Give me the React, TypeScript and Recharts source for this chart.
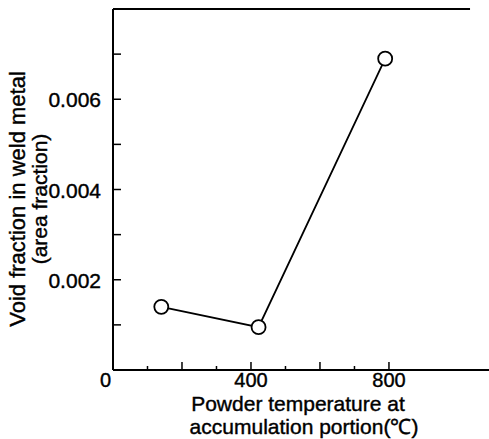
import { LineChart, Line, XAxis, YAxis, ReferenceLine } from 'recharts';

const temps = [140, 422, 789];
const voidFrac = [0.0014, 0.00095, 0.0069];
const xTicks = [0, 100, 200, 300, 400, 500, 600, 700, 800];
const xLabels = [0, 400, 800];
const yTicks = [0, 0.001, 0.002, 0.003, 0.004, 0.005, 0.006, 0.007];
const yLabels = ['0.002', '0.004', '0.006'];

const data = temps.map((t, i) => ({ t, v: voidFrac[i] }));
const font = '"Liberation Sans", Arial, sans-serif';
const textStyle = { fontFamily: font, fill: '#000', stroke: '#000', strokeWidth: 0.4 };

function XTick(props: any) {
  const { x, y, payload } = props;
  const val = payload.value;
  const len = val === 0 ? 0 : val % 200 === 0 ? 8 : 4;
  let label = null;
  if (val === 0) {
    label = <text x={x - 2} y={y + 17} textAnchor="end" fontSize={20} style={textStyle}>0</text>;
  } else if (xLabels.includes(val)) {
    label = <text x={x} y={y + 17} textAnchor="middle" fontSize={20} style={textStyle}>{val}</text>;
  }
  return (
    <g>
      {len > 0 && <line x1={x} y1={y} x2={x} y2={y - len} stroke="#000" strokeWidth={1.5} />}
      {label}
    </g>
  );
}

function YTick(props: any) {
  const { x, y, payload } = props;
  const val = payload.value;
  const txt = Number(val).toFixed(3);
  return (
    <g>
      {val !== 0 && <line x1={x} y1={y} x2={x + 8} y2={y} stroke="#000" strokeWidth={1.5} />}
      {yLabels.includes(txt) && (
        <text x={x - 12} y={y + 8} textAnchor="end" fontSize={21} style={textStyle}>{txt}</text>
      )}
    </g>
  );
}

export default function App() {
  return (
    <div style={{ position: 'absolute', left: 0, top: 0, background: '#fff' }}>
      <LineChart width={489} height={439} data={data} margin={{ top: 9, right: 0, bottom: 68, left: 112 }}>
        <XAxis
          type="number"
          dataKey="t"
          domain={[0, 1090]}
          ticks={xTicks}
          interval={0}
          height={1}
          tickSize={0}
          tickMargin={0}
          tickLine={false}
          axisLine={{ stroke: '#000', strokeWidth: 2 }}
          tick={(p: any) => <XTick {...p} />}
        />
        <YAxis
          type="number"
          domain={[0, 0.008]}
          ticks={yTicks}
          interval={0}
          width={1}
          tickSize={0}
          tickMargin={0}
          tickLine={false}
          axisLine={{ stroke: '#000', strokeWidth: 2 }}
          tick={(p: any) => <YTick {...p} />}
        />
        <ReferenceLine
          segment={[{ x: 0, y: 0.008 }, { x: 1035, y: 0.008 }]}
          stroke="#000"
          strokeWidth={2}
        />
        <Line
          type="linear"
          dataKey="v"
          stroke="#000"
          strokeWidth={1.8}
          dot={{ r: 7, fill: '#fff', stroke: '#000', strokeWidth: 1.8 }}
          isAnimationActive={false}
        />
        <text x={25} y={199} transform="rotate(-90 25 199)" textAnchor="middle" fontSize={22} style={textStyle}>
          Void fraction in weld metal
        </text>
        <text x={47} y={199} transform="rotate(-90 47 199)" textAnchor="middle" fontSize={21} style={textStyle}>
          (area fraction)
        </text>
        <text x={298} y={411} textAnchor="middle" fontSize={21} style={textStyle}>
          Powder temperature at
        </text>
        <text x={304} y={434} textAnchor="middle" fontSize={21} style={textStyle}>
          accumulation portion(℃)
        </text>
      </LineChart>
    </div>
  );
}
